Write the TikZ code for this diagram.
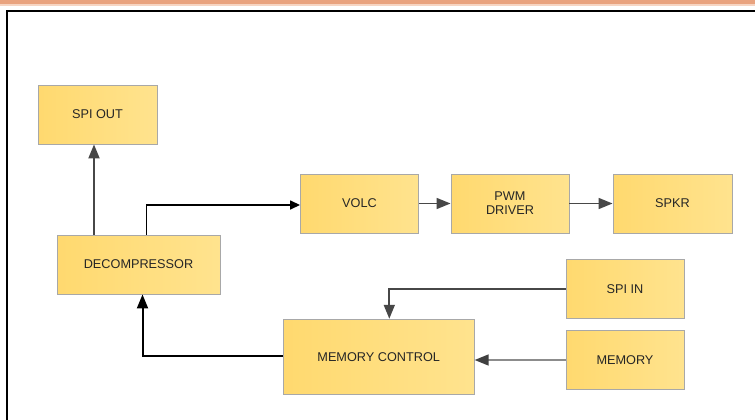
\documentclass[tikz,border=0pt]{standalone}
\usepackage{fontspec}
\setmainfont{Liberation Sans}
\usetikzlibrary{arrows.meta}
\definecolor{boxL}{HTML}{FFD96F}
\definecolor{boxR}{HTML}{FFE38E}
\definecolor{boxB}{HTML}{A8A8A8}
\definecolor{txt}{HTML}{262626}
\tikzset{
  blk/.style={draw=boxB, line width=0.9pt, left color=boxL, right color=boxR,
    minimum width=#1, inner sep=0pt, font=\fontsize{12.7}{14}\selectfont, text=txt, align=center},
  blk/.default=118pt,
  wire/.style={line width=#1, -{Triangle[length=14pt,width=11pt]}},
  wire/.default=1.5pt
}
\begin{document}
\begin{tikzpicture}[x=1pt,y=-1pt]
\useasboundingbox (0,0) rectangle (755,420);
\fill[white] (0,0) rectangle (755,420);
\fill[color={rgb,255:red,233;green,163;blue,127}] (0,0) rectangle (755,4.5);
\fill[color={rgb,255:red,246;green,213;blue,195}] (0,4.5) rectangle (755,6.5);
\draw[line width=2.2pt] (7,425) -- (7,11) -- (760,11);

\node[blk=119pt, minimum height=59pt] (spiout) at (97.5,114.5) {SPI OUT};
\node[blk=163pt, minimum height=59pt] (dec) at (138.5,264.5) {DECOMPRESSOR};
\node[blk=118pt, minimum height=59pt] (volc) at (359.5,203.5) {VOLC};
\node[blk=118pt, minimum height=59pt] (pwm) at (510,203.5) {PWM\\DRIVER};
\node[blk=119pt, minimum height=59pt] (spkr) at (672.5,203.5) {SPKR};
\node[blk=118pt, minimum height=59pt] (spiin) at (625,289) {SPI IN};
\node[blk=118pt, minimum height=59pt] (mem) at (625,360) {MEMORY};
\node[blk=191pt, minimum height=75pt] (mc) at (378.7,356.7) {MEMORY CONTROL};

\coordinate (a1) at (146.7,205);
\coordinate (m1) at (142.5,356);
\coordinate (s1) at (389.3,289.3);

\draw[wire=2pt, draw=black!72] (dec.north -| spiout.south) ++(-3.5,0) -- ([xshift=-3.5pt]spiout.south);
\draw[line width=1.5pt, -{Triangle[length=10pt,width=9pt]}] (a1 |- dec.north) -- (a1) -- (volc.west |- a1);
\draw[wire=1.5pt, draw=black!72] (volc.east) -- (pwm.west);
\draw[wire=1.5pt, draw=black!72] (pwm.east) -- (spkr.west);
\draw[wire=1.8pt, draw=black!72] (spiin.west |- s1) -- (s1) -- (s1 |- mc.north);
\draw[line width=1.5pt, draw=black!45, -{Triangle[length=14pt,width=11pt,color=black!75]}] (mem.west) -- (mem.west -| mc.east);
\draw[wire=2pt] (mc.west |- m1) -- (m1) -- (m1 |- dec.south);
\end{tikzpicture}
\end{document}
